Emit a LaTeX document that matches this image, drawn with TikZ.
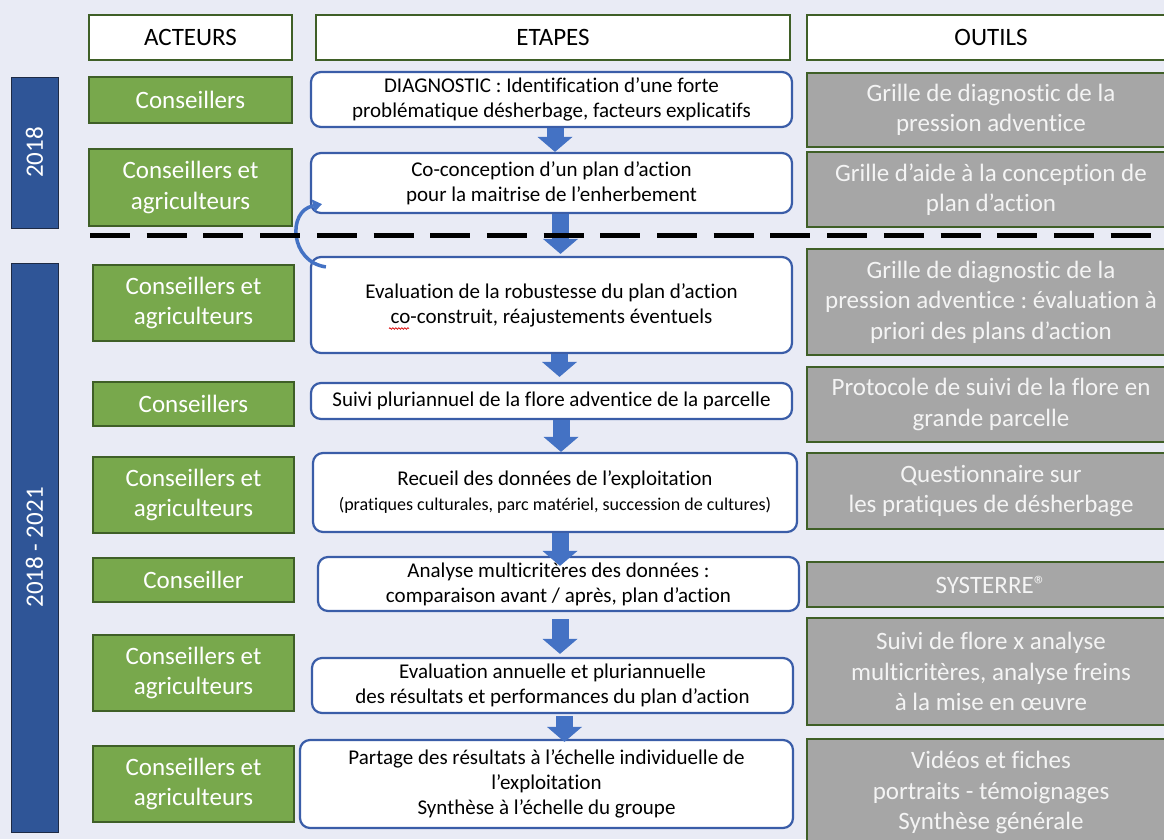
\documentclass[tikz,border=0pt]{standalone}
\usepackage{fontspec}
\setmainfont{Carlito}[Ligatures={NoCommon,NoContextual}]
\usetikzlibrary{arrows.meta,calc,decorations.pathmorphing}
\definecolor{bg}{HTML}{E9EBF5}
\definecolor{lgreen}{HTML}{78A84C}
\definecolor{dgreen}{HTML}{3F5F27}
\definecolor{tgrey}{HTML}{A6A6A6}
\definecolor{ttext}{HTML}{F4F4F4}
\definecolor{sblue}{HTML}{3A5DA8}
\definecolor{ablue}{HTML}{4472C4}
\definecolor{yblue}{HTML}{2F5597}
\definecolor{ybord}{HTML}{1E2A44}
\tikzset{
  hdr/.style={draw=dgreen, line width=2.5pt, fill=white, inner sep=0pt,
    font=\fontsize{25}{30}\selectfont, minimum height=45pt},
  act/.style={draw=dgreen, line width=2.5pt, fill=lgreen, text=white, inner sep=0pt,
    align=center, font=\fontsize{25}{30.5}\selectfont, minimum width=201pt},
  tool/.style={draw=dgreen, line width=2.5pt, fill=tgrey, text=ttext, inner sep=0pt,
    align=center, font=\fontsize{25}{30.5}\selectfont, minimum width=368pt},
  stepbox/.style={draw=sblue, line width=2.2pt, fill=white, rounded corners=10pt, inner sep=0pt,
    align=center, font=\fontsize{21}{25}\selectfont},
  yearbar/.style={draw=ybord, line width=1pt, fill=yblue, text=white, inner sep=0pt,
    rotate=90, font=\fontsize{25}{30}\selectfont, minimum height=47pt},
  barrow/.style={draw=ablue, line width=17pt,
    -{Triangle[width=35pt,length=15pt,line width=0pt]}},
  curvarrow/.style={draw=ablue, line width=3.5pt,
    -{Triangle[width=13pt,length=9pt,line width=0pt]}},
  sep/.style={draw=black, line width=5pt, dash pattern=on 40pt off 16.7pt}
}
\frenchspacing
\begin{document}
\frenchspacing
\begin{tikzpicture}[x=1pt,y=-1pt]
\useasboundingbox (0,0) rectangle (1164,839);
\fill[bg] (0,0) rectangle (1164,839);

% headers
\node[hdr, minimum width=203pt] (hA) at (190.5,37.5) {ACTEURS};
\node[hdr, minimum width=474pt] (hE) at (553,37.5) {ETAPES};
\node[hdr, minimum width=368pt] (hO) at (991,37.5) {OUTILS};

% year bars
\node[yearbar, minimum width=151pt] (y1) at (34.5,152.5) {2018};
\node[yearbar, minimum width=569pt] (y2) at (34.5,547.5) {2018 - 2021};

% actors
\node[act, minimum width=203pt, minimum height=46pt] (a1) at (190.5,100) {Conseillers};
\node[act, minimum width=203pt, minimum height=77pt] (a2) at (190.5,187.5) {Conseillers et\\agriculteurs};
\node[act, minimum height=76pt] (a3) at (193.5,303) {Conseillers et\\agriculteurs};
\node[act, minimum height=44pt] (a4) at (193.5,404) {Conseillers};
\node[act, minimum height=76pt] (a5) at (193.5,495) {Conseillers et\\agriculteurs};
\node[act, minimum height=44pt] (a6) at (193.5,580) {Conseiller};
\node[act, minimum height=76pt] (a7) at (193.5,673) {Conseillers et\\agriculteurs};
\node[act, minimum height=76pt] (a8) at (193.5,784) {Conseillers et\\agriculteurs};

% tools
\node[tool, minimum height=74pt] (t1) at (991,110) {Grille de diagnostic de la\\pression adventice};
\node[tool, minimum height=75pt] (t2) at (991,189.5) {Grille d’aide à la conception de\\plan d’action};
\node[tool, minimum height=106pt] (t3) at (991,302) {Grille de diagnostic de la\\pression adventice : évaluation à\\priori des plans d’action};
\node[tool, minimum height=75pt] (t4) at (991,404.5) {Protocole de suivi de la flore en\\grande parcelle};
\node[tool, minimum height=76pt] (t5) at (991,491) {Questionnaire sur\\les pratiques de désherbage};
\node[tool, minimum height=45pt] (t6) at (991,584.5) {SYSTERRE®};
\node[tool, minimum height=107pt] (t7) at (991,671.5) {Suivi de flore x analyse\\multicritères, analyse freins\\à la mise en œuvre};
\node[tool, minimum height=107pt] (t8) at (991,792.5) {Vidéos et fiches\\portraits - témoignages\\Synthèse générale};

% steps
\node[stepbox, minimum width=481pt, minimum height=55pt] (s1) at (551.5,99.5) {DIAGNOSTIC : Identification d’une forte\\problématique désherbage, facteurs explicatifs};
\node[stepbox, minimum width=481pt, minimum height=60pt] (s2) at (551.5,183) {Co-conception d’un plan d’action\\pour la maitrise de l’enherbement};
\node[stepbox, minimum width=481pt, minimum height=96pt] (s3) at (551.5,305) {Evaluation de la robustesse du plan d’action\\co-construit, réajustements éventuels};
\node[stepbox, minimum width=481pt, minimum height=36pt] (s4) at (551.5,401) {Suivi pluriannuel de la flore adventice de la parcelle};
\node[stepbox, minimum width=484pt, minimum height=79pt] (s5) at (555,492.5) {Recueil des données de l’exploitation\\{\fontsize{18}{22}\selectfont (pratiques culturales, parc matériel, succession de cultures)}};
\node[stepbox, minimum width=481pt, minimum height=54pt] (s6) at (558.5,584) {Analyse multicritères des données :\\comparaison avant / après, plan d’action};
\node[stepbox, minimum width=481pt, minimum height=55pt] (s7) at (552.5,685.5) {Evaluation annuelle et pluriannuelle\\des résultats et performances du plan d’action};
\node[stepbox, minimum width=493pt, minimum height=88pt] (s8) at (546.5,784) {Partage des résultats à l’échelle individuelle de\\l’exploitation\\Synthèse à l’échelle du groupe};

% spell-check squiggle
\draw[red!85!black, line width=0.7pt, decorate, decoration={snake, amplitude=0.8pt, segment length=3pt}] (389,328.5) -- (409,328.5);

% block arrows
\coordinate (x1) at (555,0);
\coordinate (x2) at (560.5,0);
\coordinate (x3) at (559.5,0);
\coordinate (x4) at (561,0);
\coordinate (x5) at (560,0);
\coordinate (x6) at (560,0);
\coordinate (x7) at (564.5,0);
\draw[barrow] (s1.south -| x1) -- (s2.north -| x1);
\draw[barrow, shorten >=2pt] (s2.south -| x2) -- (s3.north -| x2);
\draw[barrow, shorten >=5pt] (s3.south -| x3) -- (s4.north -| x3);
\draw[barrow] (s4.south -| x4) -- (s5.north -| x4);
\draw[barrow, shorten >=-10pt] (s5.south -| x5) -- (s6.north -| x5);
\draw[barrow, shorten <=7pt, shorten >=3pt] (s6.south -| x6) -- (s7.north -| x6);
\draw[barrow, shorten <=2pt, shorten >=-3pt] (s7.south -| x7) -- (s8.north -| x7);

% curved loop arrow
\draw[curvarrow] ($(s3.north west)+(16,11)$) .. controls (290,262) and (287,211) .. ($(s2.south west)+(12,-10)$);

% separator
\coordinate (sepL) at (90,235);
\coordinate (sepR) at (1175,235);
\draw[sep] (sepL) -- (sepR);
\end{tikzpicture}
\end{document}
